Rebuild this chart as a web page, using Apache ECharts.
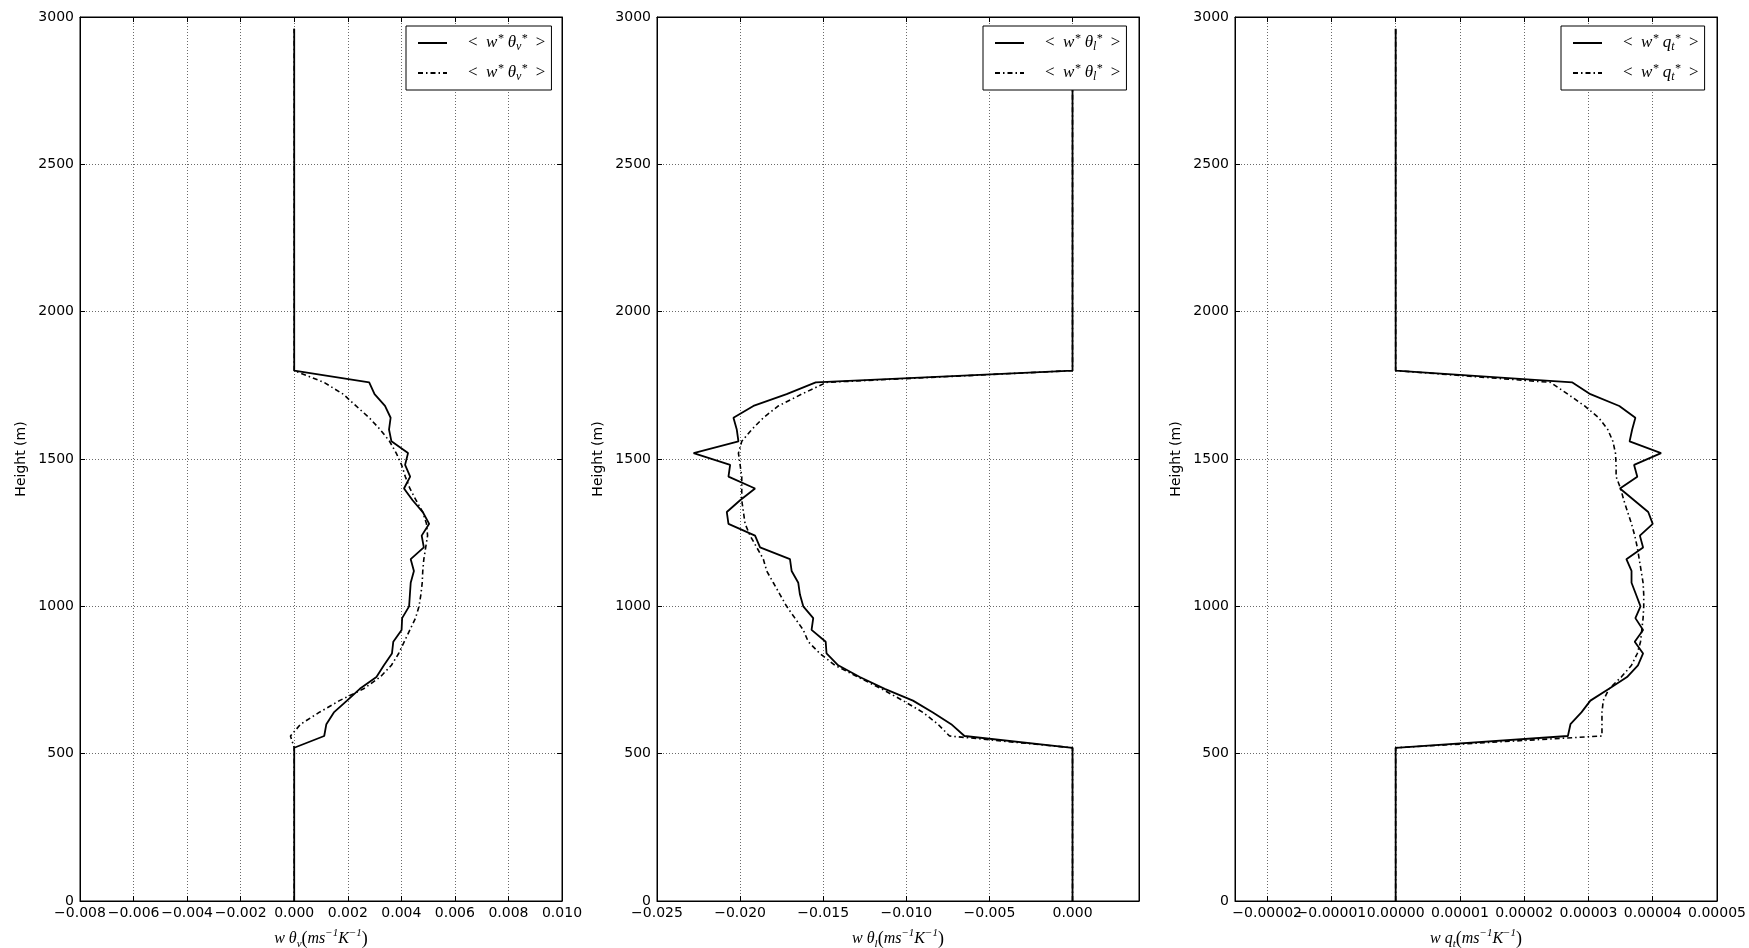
<!DOCTYPE html>
<html>
<head>
<meta charset="utf-8">
<script src="https://cdn.jsdelivr.net/npm/echarts@6/dist/echarts.min.js"></script>
<style>
html, body { margin: 0; padding: 0; background: #fff; }
#chart { width: 1749px; height: 948px; }
</style>
</head>
<body>
<div id="chart"></div>
<script>
// Model levels (m), shared by all three flux profiles
const heights = [0, 520, 560, 600, 640, 680, 720, 760, 800, 840, 880, 920, 960, 1000,
  1040, 1080, 1120, 1160, 1200, 1240, 1280, 1320, 1360, 1400, 1440, 1480, 1520,
  1560, 1600, 1640, 1680, 1720, 1760, 1800, 2960];

// Buoyancy flux <w* thv*>
const thvSolid = [0, 0, 0.00112, 0.00120, 0.00148, 0.00197, 0.00245, 0.00307, 0.00335,
  0.00365, 0.00370, 0.00401, 0.00403, 0.00429, 0.00432, 0.00435, 0.00447, 0.00435,
  0.00484, 0.00476, 0.00504, 0.00480, 0.00442, 0.00410, 0.00433, 0.00414, 0.00425,
  0.00363, 0.00354, 0.00360, 0.00339, 0.00300, 0.00280, 0, 0];
const thvDash = [0, 0, -0.00014, 0.00024, 0.00093, 0.00169, 0.00259, 0.00321, 0.00363,
  0.00390, 0.00411, 0.00432, 0.00453, 0.00466, 0.00473, 0.00478, 0.00480, 0.00484,
  0.00491, 0.00498, 0.00494, 0.00480, 0.00455, 0.00432, 0.00415, 0.00401, 0.00381,
  0.00356, 0.00321, 0.00280, 0.00231, 0.00183, 0.00111, 0, 0];

// Liquid-water potential temperature flux <w* thl*>
const thlSolid = [0, 0, -0.0065, -0.0073, -0.0084, -0.0096, -0.0113, -0.0128, -0.0141,
  -0.0148, -0.01485, -0.0157, -0.0156, -0.0162, -0.0164, -0.0165, -0.0169, -0.0170,
  -0.0188, -0.0191, -0.0207, -0.0208, -0.0200, -0.0191, -0.0207, -0.0206, -0.0228,
  -0.0201, -0.0202, -0.0204, -0.0192, -0.0172, -0.01545, 0, 0];
const thlDash = [0, 0, -0.0074, -0.0081, -0.0090, -0.0102, -0.0115, -0.0129, -0.0143,
  -0.0152, -0.0159, -0.0162, -0.0167, -0.0172, -0.0176, -0.0180, -0.0184, -0.0186,
  -0.0190, -0.0194, -0.0197, -0.0198, -0.0199, -0.0199, -0.0199, -0.0200, -0.0201,
  -0.0199, -0.0193, -0.0186, -0.0177, -0.0163, -0.0148, 0, 0];

// Total water flux <w* qt*>
const qtSolid = [0, 0, 2.68e-5, 2.72e-5, 2.89e-5, 3.03e-5, 3.32e-5, 3.60e-5, 3.77e-5,
  3.85e-5, 3.72e-5, 3.85e-5, 3.73e-5, 3.81e-5, 3.74e-5, 3.67e-5, 3.67e-5, 3.59e-5,
  3.85e-5, 3.80e-5, 4.00e-5, 3.93e-5, 3.71e-5, 3.49e-5, 3.76e-5, 3.71e-5, 4.13e-5,
  3.64e-5, 3.68e-5, 3.73e-5, 3.48e-5, 3.03e-5, 2.75e-5, 0, 0];
const qtDash = [0, 0, 3.21e-5, 3.21e-5, 3.21e-5, 3.23e-5, 3.32e-5, 3.51e-5, 3.67e-5,
  3.76e-5, 3.81e-5, 3.83e-5, 3.85e-5, 3.86e-5, 3.86e-5, 3.85e-5, 3.82e-5, 3.79e-5,
  3.76e-5, 3.72e-5, 3.67e-5, 3.61e-5, 3.55e-5, 3.50e-5, 3.43e-5, 3.43e-5, 3.42e-5,
  3.38e-5, 3.30e-5, 3.16e-5, 2.94e-5, 2.68e-5, 2.41e-5, 0, 0];

// Tick positions for the qt panel
const qtTicks = [-0.00002, -0.00001, 0, 0.00001, 0.00002, 0.00003, 0.00004, 0.00005];
const qtMin = -0.000025;

const panels = [
  { sym: 'θ', sub: 'v', solid: thvSolid, dash: thvDash, min: -0.008, max: 0.010, interval: 0.002, digits: 3 },
  { sym: 'θ', sub: 'l', solid: thlSolid, dash: thlDash, min: -0.025, max: 0.004, interval: 0.005, digits: 3 },
  { sym: 'q', sub: 't', solid: qtSolid, dash: qtDash, min: qtMin, max: 0.00005, custom: qtTicks, digits: 5 }
];

const gridLeft = [80, 657, 1235];
const gridWidth = 482;
const gridTop = 17;
const gridHeight = 884;

const fmt = (d) => (v) => {
  const s = Math.abs(v) < 1e-12 ? (0).toFixed(d) : v.toFixed(d);
  return s.replace('-', '\u2212');
};

const mathRich = {
  lt: { fontFamily: 'Liberation Serif', fontSize: 17, color: '#000', lineHeight: 20, padding: [0, 0, 0, 16] },
  m: { fontFamily: 'Liberation Serif', fontSize: 17, color: '#000', lineHeight: 20 },
  i: { fontFamily: 'Liberation Serif', fontStyle: 'italic', fontSize: 17, color: '#000', lineHeight: 20 },
  sup: { fontFamily: 'Liberation Serif', fontStyle: 'italic', fontSize: 12, color: '#000', verticalAlign: 'top', lineHeight: 20 },
  sub: { fontFamily: 'Liberation Serif', fontStyle: 'italic', fontSize: 12, color: '#000', verticalAlign: 'bottom', lineHeight: 20 }
};
const nameRich = {
  i: { fontFamily: 'Liberation Serif', fontStyle: 'italic', fontSize: 16, color: '#000', lineHeight: 22 },
  p: { fontFamily: 'Liberation Serif', fontSize: 18, color: '#000', lineHeight: 22 },
  sup: { fontFamily: 'Liberation Serif', fontStyle: 'italic', fontSize: 11, color: '#000', verticalAlign: 'top', lineHeight: 22 },
  sub: { fontFamily: 'Liberation Serif', fontStyle: 'italic', fontSize: 11, color: '#000', verticalAlign: 'bottom', lineHeight: 22 }
};

const legendLabel = (p) =>
  '{lt|<  }{i|w}{sup|*}{m| }{i|' + p.sym + '}{sub|' + p.sub + '}{sup|*}{m|  >}';
const axisName = (p) =>
  '{i|w ' + p.sym + '}{sub|' + p.sub + '}{p|(}{i|ms}{sup|\u22121}{i|K}{sup|\u22121}{p|)}';

const grid = [], xAxis = [], yAxis = [], series = [], legend = [];
const dotted = { color: '#6a6a6a', width: 1, type: [1, 2] };
const tickStyle = { inside: true, length: 5, lineStyle: { color: '#000', width: 1 } };

panels.forEach((p, k) => {
  grid.push({ left: gridLeft[k], top: gridTop, width: gridWidth, height: gridHeight,
    outerBoundsMode: 'none', containLabel: false,
    show: true, borderColor: '#000', borderWidth: 1 });

  const xBase = { type: 'value', gridIndex: k, min: p.min, max: p.max };
  if (p.interval) xBase.interval = p.interval;
  const xTick = Object.assign({}, tickStyle);
  if (p.custom) xTick.customValues = p.custom;

  const labelOpt = {
    color: '#000', fontFamily: 'DejaVu Sans', fontSize: 14, margin: 5,
    formatter: fmt(p.digits), showMinLabel: true, showMaxLabel: k !== 1, hideOverlap: false
  };
  if (p.custom) {
    // a blank leading entry at the axis minimum keeps the crowded labels from being thinned
    labelOpt.customValues = [p.min].concat(p.custom);
    labelOpt.showMinLabel = false;
  }

  xAxis.push(Object.assign({}, xBase, {
    position: 'bottom',
    axisLine: { onZero: false, lineStyle: { color: '#000', width: 1 } },
    axisTick: xTick,
    splitLine: { show: true, lineStyle: dotted },
    axisLabel: labelOpt,
    name: axisName(p), nameLocation: 'middle', nameGap: 27,
    nameTextStyle: { rich: nameRich }
  }));
  xAxis.push(Object.assign({}, xBase, {
    position: 'top',
    axisLine: { onZero: false, lineStyle: { color: '#000', width: 1 } },
    axisTick: xTick,
    axisLabel: { show: false },
    splitLine: { show: false }
  }));

  const yBase = { type: 'value', gridIndex: k, min: 0, max: 3000, interval: 500 };
  yAxis.push(Object.assign({}, yBase, {
    position: 'left',
    axisLine: { onZero: false, lineStyle: { color: '#000', width: 1 } },
    axisTick: tickStyle,
    splitLine: { show: true, lineStyle: dotted },
    axisLabel: { color: '#000', fontFamily: 'DejaVu Sans', fontSize: 14, margin: 6,
      formatter: (v) => String(v) },
    name: 'Height (m)', nameLocation: 'middle', nameGap: 52,
    nameTextStyle: { color: '#000', fontFamily: 'DejaVu Sans', fontSize: 14 }
  }));
  yAxis.push(Object.assign({}, yBase, {
    position: 'right',
    axisLine: { onZero: false, lineStyle: { color: '#000', width: 1 } },
    axisTick: tickStyle,
    axisLabel: { show: false },
    splitLine: { show: false }
  }));

  const nSolid = 'p' + k + '_solid';
  const nDash = 'p' + k + '_dash';
  series.push({
    name: nSolid, type: 'line', xAxisIndex: 2 * k, yAxisIndex: 2 * k,
    data: heights.map((h, i) => [p.solid[i], h]),
    symbol: 'none', showSymbol: false,
    lineStyle: { color: '#000', width: 1.8, type: 'solid' }, itemStyle: { color: '#000' }
  });
  series.push({
    name: nDash, type: 'line', xAxisIndex: 2 * k, yAxisIndex: 2 * k,
    data: heights.map((h, i) => [p.dash[i], h]),
    symbol: 'none', showSymbol: false,
    lineStyle: { color: '#000', width: 1.6, type: [5, 3, 1.5, 3] }, itemStyle: { color: '#000' }
  });

  legend.push({
    show: true,
    data: [nSolid, nDash],
    orient: 'vertical',
    left: gridLeft[k] + gridWidth - 9 - 147,
    top: gridTop + 9,
    selectedMode: false,
    backgroundColor: '#fff',
    borderColor: '#000', borderWidth: 1,
    padding: [7, 6, 7, 11],
    itemWidth: 29, itemHeight: 14, itemGap: 10,
    itemStyle: { opacity: 0 },
    formatter: () => legendLabel(p),
    textStyle: { rich: mathRich }
  });
});

const chart = echarts.init(document.getElementById('chart'));
chart.setOption({
  backgroundColor: '#fff',
  animation: false,
  grid: grid, xAxis: xAxis, yAxis: yAxis, series: series, legend: legend
});
</script>
</body>
</html>
